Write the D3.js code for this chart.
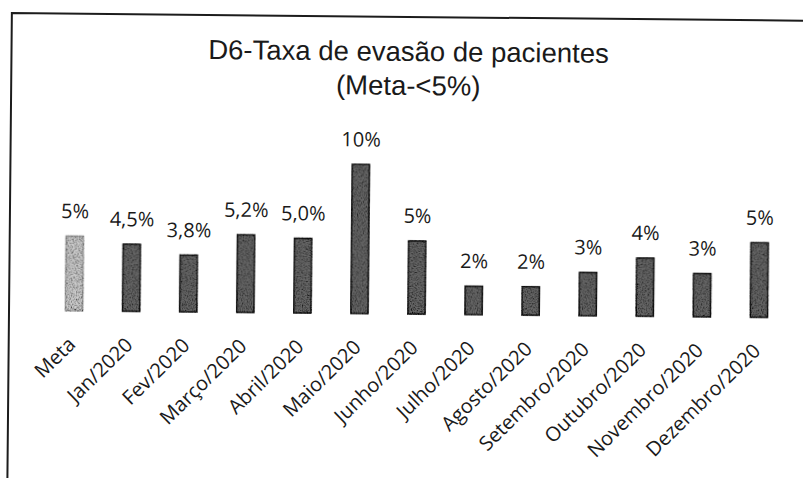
<!DOCTYPE html>
<html>
<head>
<meta charset="utf-8">
<script src="https://cdn.jsdelivr.net/npm/d3@7"></script>
<style>
  html, body { margin: 0; padding: 0; background: #fff; }
  svg { display: block; }
</style>
</head>
<body>
<div id="chart"></div>
<script>
const categories = ["Meta", "Jan/2020", "Fev/2020", "Março/2020", "Abril/2020", "Maio/2020", "Junho/2020",
    "Julho/2020", "Agosto/2020", "Setembro/2020", "Outubro/2020", "Novembro/2020", "Dezembro/2020"];
const values = [5, 4.5, 3.8, 5.2, 5.0, 10, 4.9, 1.9, 1.9, 2.9, 3.9, 2.9, 5.0];
const valueLabels = ["5%", "4,5%", "3,8%", "5,2%", "5,0%", "10%", "5%", "2%", "2%", "3%", "4%", "3%", "5%"];
const titleLines = ["D6-Taxa de evasão de pacientes", "(Meta-<5%)"];

const W = 803, H = 478;
const baseY = 314;

const svg = d3.select("#chart")
    .append("svg")
    .attr("width", W)
    .attr("height", H);

// grain filter so the bars look like the scanned page
const defs = svg.append("defs");
const grain = defs.append("filter").attr("id", "grain")
    .attr("x", "-10%").attr("y", "-10%").attr("width", "120%").attr("height", "120%");
grain.append("feTurbulence")
    .attr("type", "fractalNoise")
    .attr("baseFrequency", "0.8")
    .attr("numOctaves", 2)
    .attr("seed", 3)
    .attr("result", "noise");
grain.append("feColorMatrix")
    .attr("in", "noise")
    .attr("type", "matrix")
    .attr("values", "0 0 0 0 0  0 0 0 0 0  0 0 0 0 0  2.4 0 0 0 -0.95")
    .attr("result", "dots");
grain.append("feComposite")
    .attr("in", "dots").attr("in2", "SourceGraphic")
    .attr("operator", "in")
    .attr("result", "dotsIn");
const merge = grain.append("feMerge");
merge.append("feMergeNode").attr("in", "SourceGraphic");
merge.append("feMergeNode").attr("in", "dotsIn");

// the scan is slightly tilted
const page = svg.append("g")
    .attr("transform", `rotate(0.55, 416, ${baseY})`);

// frame (only left and top edges are on the page)
page.append("path")
    .attr("d", `M9,${H + 40} L9,17 L${W + 40},17`)
    .attr("fill", "none")
    .attr("stroke", "#1c1c1c")
    .attr("stroke-width", 2);

const x = d3.scaleBand()
    .domain(categories)
    .range([45.5, 787.5])
    .paddingInner(0.7)
    .paddingOuter(0.35);

const y = d3.scaleLinear()
    .domain([0, 10])
    .range([baseY, 165]);

// title
page.append("text")
    .attr("x", 406)
    .attr("y", 61)
    .attr("text-anchor", "middle")
    .style("font-family", "'Liberation Sans', Arial, sans-serif")
    .style("font-size", "27.5px")
    .style("fill", "#1a1a1a")
    .selectAll("tspan")
    .data(titleLines)
    .join("tspan")
    .attr("x", 406)
    .attr("dy", (d, i) => i === 0 ? 0 : 34)
    .text(d => d);

// bars
page.append("g")
    .selectAll("rect")
    .data(categories)
    .join("rect")
    .attr("x", d => x(d))
    .attr("y", (d, i) => y(values[i]))
    .attr("width", x.bandwidth())
    .attr("height", (d, i) => baseY - y(values[i]))
    .attr("fill", (d, i) => i === 0 ? "#cdcdcd" : "#666")
    .attr("stroke", (d, i) => i === 0 ? "#a0a0a0" : "#161616")
    .attr("stroke-width", 1.5)
    .attr("filter", "url(#grain)");

// value labels
page.append("g")
    .selectAll("text")
    .data(categories)
    .join("text")
    .attr("x", d => x(d) + x.bandwidth() / 2)
    .attr("y", (d, i) => y(values[i]) - 18)
    .attr("text-anchor", "middle")
    .style("font-family", "'Open Sans', sans-serif")
    .style("font-size", "20px")
    .style("fill", "#1a1a1a")
    .text((d, i) => valueLabels[i]);

// category axis, labels at -45 degrees
const xAxis = page.append("g")
    .attr("transform", `translate(0, ${baseY})`)
    .call(d3.axisBottom(x).tickSize(0));
xAxis.select(".domain").remove();
xAxis.selectAll("text")
    .attr("x", 0)
    .attr("y", 0)
    .attr("dy", null)
    .attr("transform", "translate(3, 35) rotate(-45)")
    .style("text-anchor", "end")
    .style("font-family", "'Open Sans', sans-serif")
    .style("font-size", "20px")
    .style("fill", "#1a1a1a");
</script>
</body>
</html>
